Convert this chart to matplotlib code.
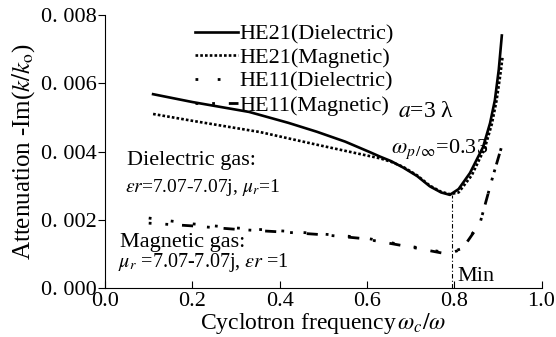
import numpy as np
import matplotlib
matplotlib.use("Agg")
import matplotlib.pyplot as plt

plt.rcParams['font.family'] = ['Liberation Serif', 'DejaVu Serif']
plt.rcParams['mathtext.fontset'] = 'stix'

# HE21, dielectric gas (solid)
x_he21_d = [0.11, 0.20, 0.33, 0.42, 0.485, 0.55, 0.607, 0.63, 0.655, 0.683, 0.715,
            0.744, 0.77, 0.79, 0.81, 0.836, 0.866, 0.882, 0.893, 0.902, 0.909]
y_he21_d = [0.00568, 0.00545, 0.00516, 0.00484, 0.00458, 0.00429, 0.00398, 0.00385,
            0.00372, 0.00353, 0.00328, 0.00298, 0.0028, 0.00273, 0.0029, 0.00337,
            0.00413, 0.00483, 0.0055, 0.0064, 0.0074]

# HE21, magnetic gas (dotted)
x_he21_m = [0.11, 0.20, 0.355, 0.485, 0.55, 0.63, 0.655, 0.683, 0.715, 0.744, 0.77,
            0.79, 0.81, 0.84, 0.87, 0.886, 0.897, 0.905, 0.911]
y_he21_m = [0.0051, 0.0049, 0.00457, 0.0042, 0.00402, 0.0038, 0.0037, 0.00355,
            0.0033, 0.003, 0.00282, 0.00275, 0.0028, 0.0033, 0.0041, 0.0048, 0.0055,
            0.0062, 0.0068]

# HE11, dielectric gas (sparse dots)
x_he11_d = [0.10, 0.20, 0.30, 0.42, 0.50, 0.59, 0.70, 0.774, 0.80, 0.818, 0.836,
            0.859, 0.888, 0.911]
y_he11_d = [0.00205, 0.00188, 0.00176, 0.00166, 0.00158, 0.00148, 0.00122, 0.00105,
            0.00108, 0.00116, 0.0015, 0.0019, 0.00325, 0.00425]

# HE11, magnetic gas (dash-dot)
x_he11_m = [0.10, 0.20, 0.30, 0.42, 0.50, 0.59, 0.70, 0.774, 0.80, 0.818, 0.836,
            0.859, 0.888, 0.911]
y_he11_m = [0.0019, 0.00182, 0.00172, 0.00163, 0.00156, 0.00145, 0.0012, 0.00102,
            0.00106, 0.00114, 0.00147, 0.0019, 0.00325, 0.00425]

x_min = 0.795
y_min = 0.00273

xticks = [0.0, 0.2, 0.4, 0.6, 0.8, 1.0]
yticks = [0.0, 0.002, 0.004, 0.006, 0.008]
ytick_labels = ["0. 000", "0. 002", "0. 004", "0. 006", "0. 008"]

fig = plt.figure(figsize=(5.56, 3.37), dpi=100)
ax = fig.add_axes([0.189, 0.1454, 0.785, 0.810])

ax.plot(x_he21_d, y_he21_d, color='black', lw=1.9, ls='-', label='HE21(Dielectric)')
ax.plot(x_he21_m, y_he21_m, color='black', lw=1.9, ls=(0, (1, 0.8)), label='HE21(Magnetic)')
ax.plot(x_he11_d, y_he11_d, color='black', lw=2.0, ls=(0, (1, 7)), label='HE11(Dielectric)')
ax.plot(x_he11_m, y_he11_m, color='black', lw=2.0, ls=(3, (4, 5, 1, 5)), label='HE11(Magnetic)')

ax.plot([x_min, x_min], [0, y_min], color='black', lw=0.8, ls=(0, (4, 2, 1, 2)))

ax.set_xlim(0, 1.0)
ax.set_ylim(0, 0.008)
ax.set_xticks(xticks)
ax.set_xticklabels(["%.1f" % v for v in xticks])
ax.set_yticks(yticks)
ax.set_yticklabels(ytick_labels)
ax.tick_params(axis='x', direction='in', length=5, labelsize=16, pad=3)
ax.tick_params(axis='y', direction='out', length=5, labelsize=16, pad=1)
for s in ['top', 'right']:
    ax.spines[s].set_visible(False)

ax.set_xlabel(r"Cyclotron frequency$\,\omega_c/\omega$", fontsize=17, labelpad=0)
ax.set_ylabel(r"Attenuation -Im($k/k_{\rm o}$)", fontsize=18, labelpad=3)

ax.legend(loc='upper left', bbox_to_anchor=(0.205, 0.967), frameon=False,
          fontsize=16, handlelength=1.95, handletextpad=0.05, labelspacing=0.14,
          borderpad=0, borderaxespad=0)

ax.text(0.67, 0.0050, r"$a$=3 λ", fontsize=17)
ax.text(0.655, 0.00396, r"$\omega_{p\,/\infty}$=0.33", fontsize=16)
ax.text(0.05, 0.0036, "Dielectric gas:", fontsize=16)
ax.text(0.045, 0.00281, r"$\varepsilon r$=7.07-7.07j, $\mu_r$=1", fontsize=14)
ax.text(0.034, 0.0012, "Magnetic gas:", fontsize=16)
ax.text(0.03, 0.00062, r"$\mu_r$ =7.07-7.07j, $\varepsilon r$ =1", fontsize=14.5)
ax.text(0.807, 0.0002, "Min", fontsize=16)

plt.savefig('out.png', dpi=100)
